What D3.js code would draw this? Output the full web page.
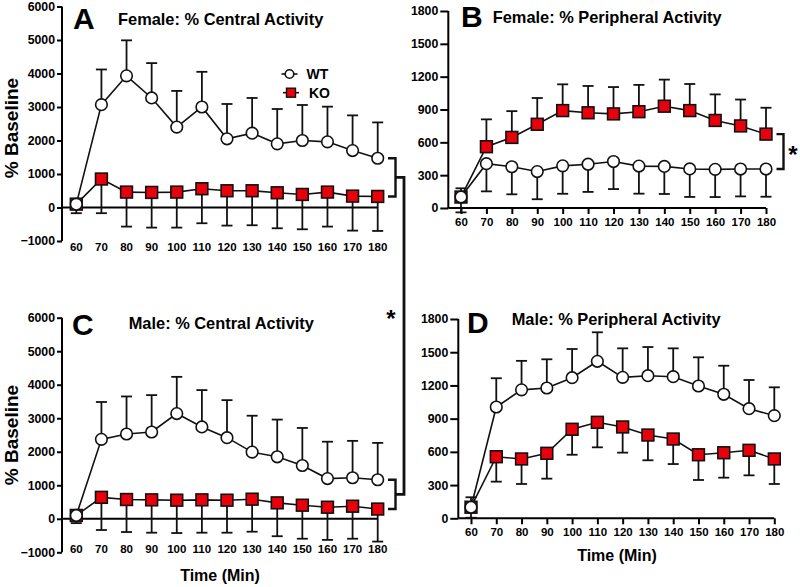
<!DOCTYPE html>
<html><head><meta charset="utf-8">
<script src="https://cdn.jsdelivr.net/npm/d3@7"></script>
<style>
body{margin:0;background:#fff;}
svg{display:block;font-family:"Liberation Sans",Arial,sans-serif;font-weight:bold;}
</style></head>
<body><svg id="c" width="800" height="587"></svg>
<script>
const time = [60,70,80,90,100,110,120,130,140,150,160,170,180];

const aWT = [100,3070,3930,3270,2400,3000,2050,2220,1900,2000,1960,1700,1470];
const aWTerr = [30,1050,1060,1040,1080,1050,1040,1050,1040,1060,1050,1050,1070];
const aKO = [100,850,460,450,460,560,500,500,440,390,460,340,330];
const aKOerr = [270,1020,1030,1050,1060,1030,1040,1030,1060,1040,1030,1030,1030];

const bWT = [100,405,377,333,385,400,425,383,380,357,353,356,356];
const bWTerr = [140,253,252,253,255,253,252,252,252,256,253,250,253];
const bKO = [100,560,645,765,890,870,860,880,930,890,800,750,675];
const bKOerr = [80,250,240,240,240,245,245,245,243,243,238,241,241];

const cWT = [100,2370,2530,2590,3140,2740,2420,1990,1850,1590,1200,1225,1165];
const cWTerr = [30,1115,1120,1100,1095,1100,1120,1085,1110,1120,1100,1100,1100];
const cKO = [100,640,575,565,555,565,555,585,475,405,345,375,290];
const cKOerr = [230,975,970,980,980,980,970,970,995,1000,975,970,970];

const dWT = [100,1005,1160,1177,1270,1418,1273,1288,1279,1195,1120,990,927];
const dWTerr = [90,260,262,259,259,262,262,259,256,259,258,259,256];
const dKO = [100,556,536,587,804,867,825,752,716,574,592,614,536];
const dKOerr = [95,225,226,229,230,226,232,228,226,228,225,226,226];

const centralTicks = [-1000,0,1000,2000,3000,4000,5000,6000];
const periphTicks = [0,300,600,900,1200,1500,1800];

const svg = d3.select("#c");
const FF = "Liberation Sans, Arial, sans-serif";

function panel(o){
  const g = svg.append("g");
  const x = d3.scaleLinear().domain([60,180]).range([o.x0,o.x1]);
  const y = d3.scaleLinear().domain([o.ticks[0], o.ticks[o.ticks.length-1]]).range([o.yb,o.yt]);
  const ya = g.append("g").attr("transform",`translate(${o.ax},0)`)
    .call(d3.axisLeft(y).tickValues(o.ticks).tickSize(o.tl).tickPadding(2).tickFormat(d3.format("d")));
  ya.attr("font-family",FF).attr("font-size",12.3);
  ya.select(".domain").attr("stroke","#000").attr("stroke-width",2).attr("d",`M0,${o.yb}V${o.yt}`);
  ya.selectAll(".tick line").attr("stroke","#000").attr("stroke-width",2);
  ya.selectAll(".tick text").attr("font-size",12.3).attr("font-weight","bold").attr("fill","#000");
  const y0 = y(0);
  if(o.central){
    g.append("line").attr("x1",o.ax).attr("x2",x(180)).attr("y1",y0).attr("y2",y0).attr("stroke","#000").attr("stroke-width",2);
    g.append("g").selectAll("text").data(time).join("text")
      .attr("x",d=>x(d)).attr("y",o.xly).attr("text-anchor","middle").attr("font-size",11.5).text(d=>d);
  } else {
    const xa = g.append("g").attr("transform",`translate(0,${y0})`)
      .call(d3.axisBottom(x).tickValues(time).tickSize(6).tickPadding(4).tickFormat(d3.format("d")));
    xa.attr("font-family",FF).attr("font-size",11.5);
    xa.select(".domain").attr("stroke","#000").attr("stroke-width",2).attr("d",`M${o.ax},0H${x(180)}`);
    xa.selectAll(".tick line").attr("stroke","#000").attr("stroke-width",2);
    xa.selectAll(".tick text").attr("font-size",11.5).attr("font-weight","bold").attr("fill","#000");
  }
  const series = [
    {m:o.ko, e:o.koerr, dir:o.koDir, shape:"sq"},
    {m:o.wt, e:o.wterr, dir:o.wtDir, shape:"ci"}
  ];
  series.forEach(s=>{
    const eg = g.append("g");
    time.forEach((t,i)=>{
      const yv = s.m[i], ye = s.m[i] + s.dir*s.e[i];
      eg.append("line").attr("x1",x(t)).attr("x2",x(t)).attr("y1",y(yv)).attr("y2",y(ye)).attr("stroke","#111").attr("stroke-width",1.8);
      eg.append("line").attr("x1",x(t)-5.5).attr("x2",x(t)+5.5).attr("y1",y(ye)).attr("y2",y(ye)).attr("stroke","#111").attr("stroke-width",1.8);
    });
  });
  series.forEach(s=>{
    const line = d3.line().x((d,i)=>x(time[i])).y(d=>y(d));
    g.append("path").attr("d",line(s.m)).attr("fill","none").attr("stroke","#111").attr("stroke-width",1.6);
    if(s.shape==="sq"){
      g.append("g").selectAll("rect").data(s.m).join("rect")
        .attr("x",(d,i)=>x(time[i])-5.9).attr("y",d=>y(d)-5.9).attr("width",11.8).attr("height",11.8)
        .attr("fill","#e8000b").attr("stroke","#111").attr("stroke-width",1.6);
    } else {
      g.append("g").selectAll("circle").data(s.m).join("circle")
        .attr("cx",(d,i)=>x(time[i])).attr("cy",d=>y(d)).attr("r",5.8)
        .attr("fill","#fff").attr("stroke","#111").attr("stroke-width",1.6);
    }
  });
  g.append("text").attr("x",o.lx).attr("y",o.ly).attr("font-size",30).attr("font-weight",900).text(o.letter);
  g.append("text").attr("x",o.tx).attr("y",o.ty).attr("font-size",16.4).text(o.title);
  if(o.ytitle){
    g.append("text").attr("transform",`translate(${o.ytx},${o.yty}) rotate(-90)`).attr("text-anchor","middle").attr("font-size",19).text("% Baseline");
  }
  if(o.xtitle){
    g.append("text").attr("x",o.xtx).attr("y",o.xty).attr("text-anchor","middle").attr("font-size",16).text("Time (Min)");
  }
  return {x,y};
}

const A = panel({central:true, x0:76.3, x1:377.7, ax:62, yb:241, yt:6.5, ticks:centralTicks, tl:5, xly:251,
  wt:aWT, wterr:aWTerr, wtDir:1, ko:aKO, koerr:aKOerr, koDir:-1,
  letter:"A", lx:73, ly:29, title:"Female: % Central Activity", tx:118, ty:25,
  ytitle:true, ytx:18, yty:128});
const B = panel({central:false, x0:461, x1:766, ax:448.3, yb:208, yt:11, ticks:periphTicks, tl:8,
  wt:bWT, wterr:bWTerr, wtDir:-1, ko:bKO, koerr:bKOerr, koDir:1,
  letter:"B", lx:461, ly:27, title:"Female: % Peripheral Activity", tx:492.7, ty:23});
const C = panel({central:true, x0:76.3, x1:377.7, ax:62, yb:552.3, yt:317.7, ticks:centralTicks, tl:5, xly:552.5,
  wt:cWT, wterr:cWTerr, wtDir:1, ko:cKO, koerr:cKOerr, koDir:-1,
  letter:"C", lx:72, ly:335, title:"Male: % Central Activity", tx:128.7, ty:329,
  ytitle:true, ytx:18, yty:435, xtitle:true, xtx:220, xty:581});
const D = panel({central:false, x0:471, x1:774.3, ax:458.3, yb:518.3, yt:319, ticks:periphTicks, tl:8,
  wt:dWT, wterr:dWTerr, wtDir:1, ko:dKO, koerr:dKOerr, koDir:-1,
  letter:"D", lx:467, ly:333, title:"Male: % Peripheral Activity", tx:511.7, ty:325,
  xtitle:true, xtx:617, xty:561});

const lg = svg.append("g");
lg.append("line").attr("x1",281.5).attr("x2",297.5).attr("y1",74).attr("y2",74).attr("stroke","#111").attr("stroke-width",1.6);
lg.append("circle").attr("cx",289.5).attr("cy",74).attr("r",4.3).attr("fill","#fff").attr("stroke","#111").attr("stroke-width",1.6);
lg.append("text").attr("x",306.5).attr("y",78.7).attr("font-size",14).text("WT");
lg.append("line").attr("x1",283).attr("x2",299).attr("y1",92.7).attr("y2",92.7).attr("stroke","#111").attr("stroke-width",1.6);
lg.append("rect").attr("x",286.5).attr("y",88.2).attr("width",9).attr("height",9).attr("fill","#e8000b").attr("stroke","#111").attr("stroke-width",1.4);
lg.append("text").attr("x",309).attr("y",97.5).attr("font-size",14).text("KO");

function bracket(xv, yTop, yBot, tick){
  svg.append("path").attr("d",`M${xv-tick},${yTop}H${xv}V${yBot}H${xv-tick}`)
    .attr("fill","none").attr("stroke","#111").attr("stroke-width",2.4);
}
const aTop = A.y(aWT[12]), aBot = A.y(aKO[12]);
const cTop = C.y(cWT[12]), cBot = C.y(cKO[12]);
bracket(395.5, aTop, aBot, 7.5);
bracket(395.5, cTop, cBot, 7.5);
const aMid = (aTop+aBot)/2, cMid = (cTop+cBot)/2;
svg.append("path").attr("d",`M395.5,${aMid}H404V${cMid}H395.5`).attr("fill","none").attr("stroke","#111").attr("stroke-width",2.8);
svg.append("text").attr("x",391).attr("y",327).attr("text-anchor","middle").attr("font-size",24).text("*");
const bTop = B.y(bKO[12]), bBot = B.y(bWT[12]);
bracket(783.5, bTop, bBot, 7);
svg.append("text").attr("x",793).attr("y",163).attr("text-anchor","middle").attr("font-size",24).text("*");
</script></body></html>
